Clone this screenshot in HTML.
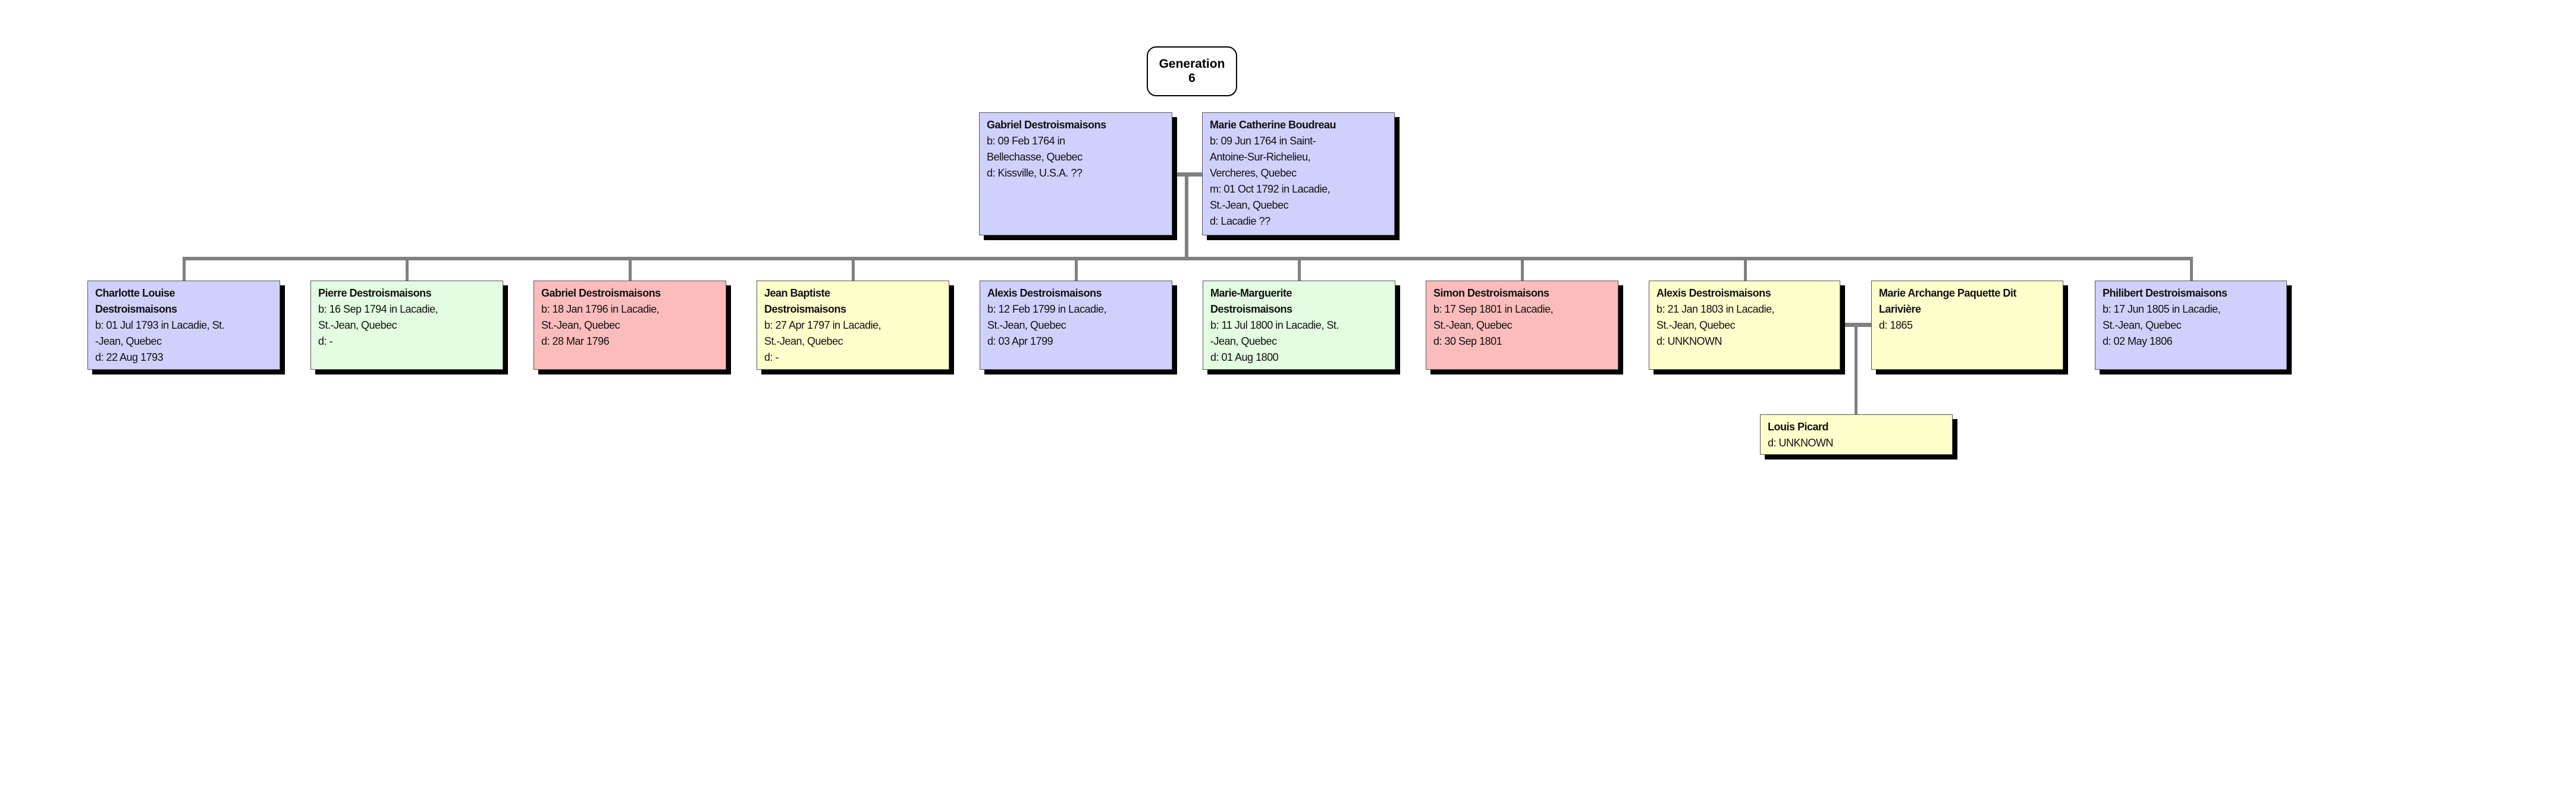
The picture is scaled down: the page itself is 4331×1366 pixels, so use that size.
<!DOCTYPE html>
<html><head><meta charset="utf-8"><style>
html,body{margin:0;padding:0;background:#fff;}
body{width:4331px;height:1366px;position:relative;overflow:hidden;font-family:"Liberation Sans",Arial,sans-serif;}
.b{position:absolute;border:1px solid #555;box-shadow:8px 8px 0 #000;box-sizing:border-box;padding:7px 12px;font-size:18px;line-height:27px;color:#111;letter-spacing:-0.5px;}
.b b{font-weight:bold;}
.bl{background:#d0d0fc;}.gr{background:#e2fde2;}.rd{background:#fdbcbc;}.ye{background:#ffffcc;}
.l{position:absolute;background:#808080;}
.gen{position:absolute;left:1928px;top:78px;width:152px;height:84px;border:2.5px solid #000;border-radius:16px;box-sizing:border-box;text-align:center;font-weight:bold;font-size:21px;line-height:24px;padding-top:16px;background:#fff;}
</style></head><body>
<div class="gen">Generation<br>6</div>

<div class="l" style="left:1971px;top:290px;width:50px;height:7px"></div>
<div class="l" style="left:1992px;top:293px;width:6px;height:145px"></div>
<div class="l" style="left:307px;top:432px;width:3380px;height:6px;border-radius:4px"></div>
<div class="l" style="left:307px;top:432px;width:5px;height:40px"></div>
<div class="l" style="left:682px;top:432px;width:5px;height:40px"></div>
<div class="l" style="left:1057px;top:432px;width:5px;height:40px"></div>
<div class="l" style="left:1432px;top:432px;width:5px;height:40px"></div>
<div class="l" style="left:1807px;top:432px;width:5px;height:40px"></div>
<div class="l" style="left:2182px;top:432px;width:5px;height:40px"></div>
<div class="l" style="left:2557px;top:432px;width:5px;height:40px"></div>
<div class="l" style="left:2932px;top:432px;width:5px;height:40px"></div>
<div class="l" style="left:3682px;top:432px;width:5px;height:40px"></div>
<div class="l" style="left:3094px;top:543px;width:52px;height:7px"></div>
<div class="l" style="left:3118px;top:547px;width:5px;height:150px"></div>

<div class="b bl" style="left:1646px;top:189px;width:325px;height:207px"><b>Gabriel Destroismaisons</b><br>b: 09 Feb 1764 in<br>Bellechasse, Quebec<br>d: Kissville, U.S.A. ??</div>
<div class="b bl" style="left:2021px;top:189px;width:324px;height:207px"><b>Marie Catherine Boudreau</b><br>b: 09 Jun 1764 in Saint-<br>Antoine-Sur-Richelieu,<br>Vercheres, Quebec<br>m: 01 Oct 1792 in Lacadie,<br>St.-Jean, Quebec<br>d: Lacadie ??</div>

<div class="b bl" style="left:147px;top:472px;width:324px;height:150px"><b>Charlotte Louise<br>Destroismaisons</b><br>b: 01 Jul 1793 in Lacadie, St.<br>-Jean, Quebec<br>d: 22 Aug 1793</div>
<div class="b gr" style="left:522px;top:472px;width:324px;height:150px"><b>Pierre Destroismaisons</b><br>b: 16 Sep 1794 in Lacadie,<br>St.-Jean, Quebec<br>d: -</div>
<div class="b rd" style="left:897px;top:472px;width:324px;height:150px"><b>Gabriel Destroismaisons</b><br>b: 18 Jan 1796 in Lacadie,<br>St.-Jean, Quebec<br>d: 28 Mar 1796</div>
<div class="b ye" style="left:1272px;top:472px;width:324px;height:150px"><b>Jean Baptiste<br>Destroismaisons</b><br>b: 27 Apr 1797 in Lacadie,<br>St.-Jean, Quebec<br>d: -</div>
<div class="b bl" style="left:1647px;top:472px;width:324px;height:150px"><b>Alexis Destroismaisons</b><br>b: 12 Feb 1799 in Lacadie,<br>St.-Jean, Quebec<br>d: 03 Apr 1799</div>
<div class="b gr" style="left:2022px;top:472px;width:324px;height:150px"><b>Marie-Marguerite<br>Destroismaisons</b><br>b: 11 Jul 1800 in Lacadie, St.<br>-Jean, Quebec<br>d: 01 Aug 1800</div>
<div class="b rd" style="left:2397px;top:472px;width:324px;height:150px"><b>Simon Destroismaisons</b><br>b: 17 Sep 1801 in Lacadie,<br>St.-Jean, Quebec<br>d: 30 Sep 1801</div>
<div class="b ye" style="left:2772px;top:472px;width:322px;height:150px"><b>Alexis Destroismaisons</b><br>b: 21 Jan 1803 in Lacadie,<br>St.-Jean, Quebec<br>d: UNKNOWN</div>
<div class="b ye" style="left:3146px;top:472px;width:323px;height:150px"><b>Marie Archange Paquette Dit<br>Larivière</b><br>d: 1865</div>
<div class="b bl" style="left:3522px;top:472px;width:323px;height:150px"><b>Philibert Destroismaisons</b><br>b: 17 Jun 1805 in Lacadie,<br>St.-Jean, Quebec<br>d: 02 May 1806</div>
<div class="b ye" style="left:2959px;top:697px;width:324px;height:68px"><b>Louis Picard</b><br>d: UNKNOWN</div>
</body></html>
